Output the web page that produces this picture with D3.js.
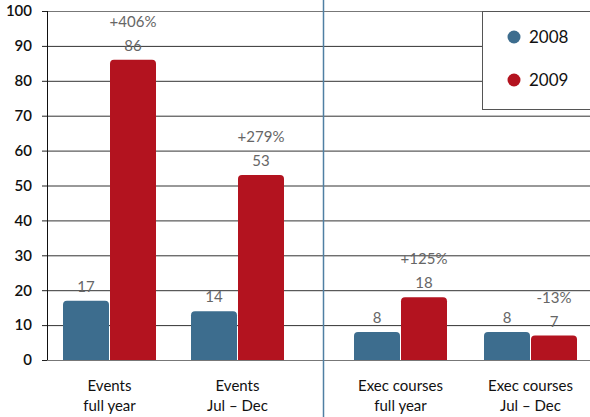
<!DOCTYPE html>
<html>
<head>
<meta charset="utf-8">
<script src="https://cdn.jsdelivr.net/npm/d3@7"></script>
<style>
  html, body { margin: 0; padding: 0; background: #fff; }
  svg { display: block; font-family: "Lato", "Open Sans", sans-serif; }
</style>
</head>
<body>
<svg id="chart" width="590" height="417"></svg>
<script>
// Category groups (two lines each) and the panel each sits in
const categories = ["Events|full year", "Events|Jul – Dec", "Exec courses|full year", "Exec courses|Jul – Dec"];
const panels = [0, 0, 1, 1];
const years = ["2008", "2009"];
const values2008 = [17, 14, 8, 8];
const values2009 = [86, 53, 18, 7];
const changeLabels = ["+406%", "+279%", "+125%", "-13%"];
const yTicks = [0, 10, 20, 30, 40, 50, 60, 70, 80, 90, 100];

const colors = { "2008": "#3d6d8e", "2009": "#b3131f" };

const svg = d3.select("#chart");
const W = 590, H = 417;
const plot = { left: 47, top: 11, bottom: 360 };

const y = d3.scaleLinear().domain([0, 100]).range([plot.bottom, plot.top]);

// Each panel gets its own band scale so the divider leaves a wider gap
const panelScales = [
  d3.scaleBand().domain(categories.filter((c, i) => panels[i] === 0)).range([46, 302]),
  d3.scaleBand().domain(categories.filter((c, i) => panels[i] === 1)).range([337, 597])
];
const bandStart = (c, i) => panelScales[panels[i]](c);
const sub = d3.scaleBand().domain(years).range([17, 111]);

// Gridlines and y axis
const yAxis = d3.axisLeft(y).tickValues(yTicks).tickSize(5).tickFormat(d3.format("d"));
const gAxis = svg.append("g").attr("transform", `translate(${plot.left},0)`).call(yAxis);
gAxis.select(".domain").remove();
gAxis.selectAll(".tick line").attr("stroke", "#222");
gAxis.selectAll(".tick text")
  .attr("x", -15)
  .attr("fill", "#111")
  .style("font-size", "15px")
  .style("font-weight", "600")
  .style("font-family", "Lato, sans-serif");

svg.append("g").selectAll("line").data(yTicks).join("line")
  .attr("x1", plot.left).attr("x2", W)
  .attr("y1", d => y(d) + 0.5).attr("y2", d => y(d) + 0.5)
  .attr("stroke", d => (d === 0 || d === 100) ? "#777" : "#333")
  .attr("stroke-width", 1);

svg.append("line")
  .attr("x1", plot.left + 0.5).attr("x2", plot.left + 0.5)
  .attr("y1", y(100)).attr("y2", y(0))
  .attr("stroke", "#111");

// Panel divider
svg.append("line")
  .attr("x1", 323.5).attr("x2", 323.5).attr("y1", 0).attr("y2", H)
  .attr("stroke", "#4f7fa3").attr("stroke-width", 1.5);

// Bars with rounded top corners
function topRounded(x0, y0, w, h, r) {
  r = Math.min(r, h, w / 2);
  return `M${x0},${y0 + h}V${y0 + r}Q${x0},${y0} ${x0 + r},${y0}` +
         `H${x0 + w - r}Q${x0 + w},${y0} ${x0 + w},${y0 + r}V${y0 + h}Z`;
}

const rows = categories.map((c, i) => ({ c, i, vals: [values2008[i], values2009[i]] }));
const barW = sub.bandwidth() - 1;

rows.forEach(row => {
  const gx = bandStart(row.c, row.i);
  years.forEach((yr, k) => {
    const v = row.vals[k];
    const x0 = gx + sub(yr);
    svg.append("path")
      .attr("d", topRounded(x0, y(v), barW, y(0) - y(v), 4))
      .attr("fill", colors[yr]);
    svg.append("text")
      .attr("x", x0 + barW / 2).attr("y", y(v) - 9)
      .attr("text-anchor", "middle")
      .attr("fill", "#666")
      .style("font-size", "15px")
      .text(v);
  });
  // Percent change above the 2009 bar
  const x1 = gx + sub("2009");
  svg.append("text")
    .attr("x", x1 + barW / 2).attr("y", y(row.vals[1]) - 33)
    .attr("text-anchor", "middle")
    .attr("fill", "#666")
    .style("font-size", "15px")
    .text(changeLabels[row.i]);
  // Category label, two lines
  const parts = row.c.split("|");
  const cx = gx + sub("2009") - 0.5;
  const t = svg.append("text")
    .attr("text-anchor", "middle")
    .attr("fill", "#111")
    .style("font-size", "15px");
  parts.forEach((p, j) => t.append("tspan").attr("x", cx).attr("y", 391 + j * 20).text(p));
});

// Legend
const lg = svg.append("g");
lg.append("rect")
  .attr("x", 482.5).attr("y", y(100) + 0.5).attr("width", 120).attr("height", 98)
  .attr("fill", "#fff").attr("stroke", "#555");
years.forEach((yr, k) => {
  lg.append("circle").attr("cx", 514).attr("cy", 37 + k * 43).attr("r", 6.5).attr("fill", colors[yr]);
  lg.append("text").attr("x", 529).attr("y", 43 + k * 43)
    .attr("fill", "#111").style("font-size", "17px").text(yr);
});
</script>
</body>
</html>
